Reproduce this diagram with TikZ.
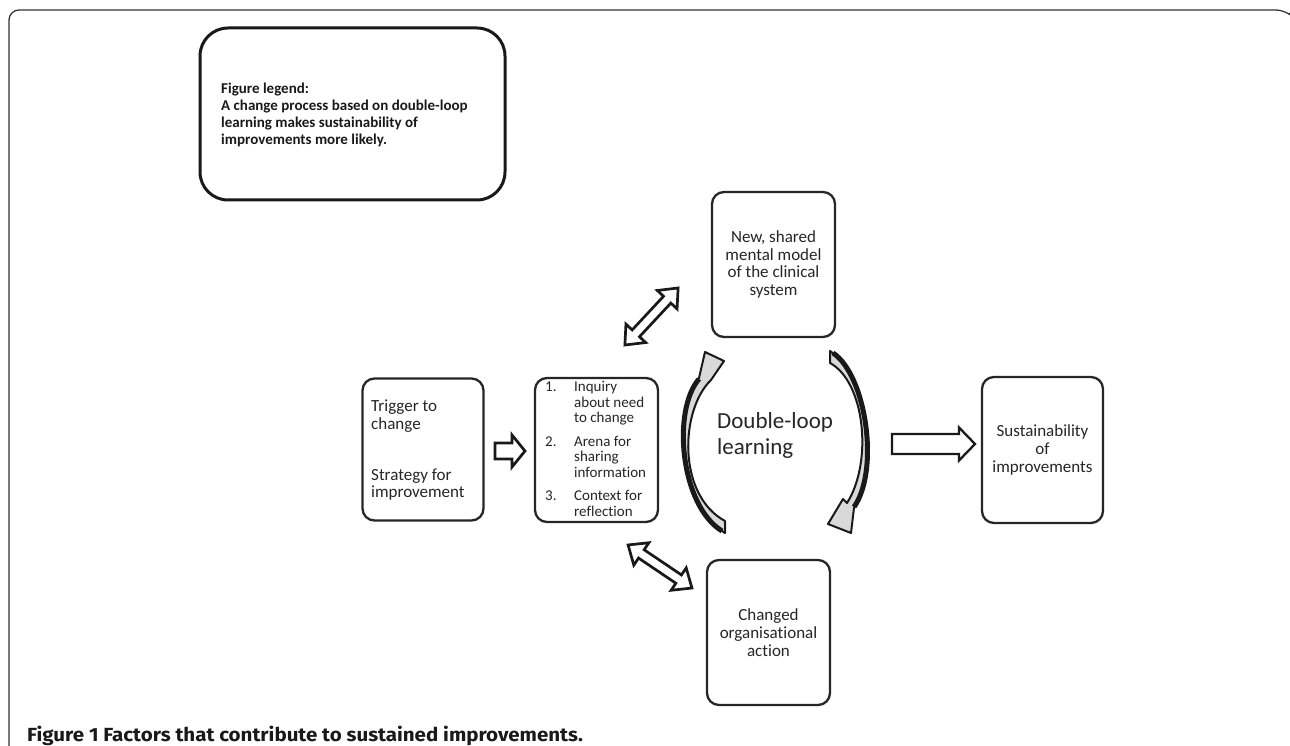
\documentclass[tikz,border=0pt]{standalone}
\usepackage{fontspec}
\setmainfont[Ligatures=NoCommon]{Carlito}
\newfontfamily\capfont[FakeStretch=1.08]{Fira Sans}
\newcommand\txtL[1]{\begin{tabular}[t]{@{}l@{}}#1\end{tabular}}
\begin{document}
\begin{tikzpicture}[x=1pt,y=-1pt,
  box/.style={draw=black!85, line width=2.3pt, rounded corners=12pt, inner sep=0pt, fill=white,
              align=center, text=black!85, font=\fontsize{17}{17.8}\selectfont},
  txt/.style={inner sep=0pt, text=black!85},
  blockarrow/.style={draw=black!90, fill=white, line width=2.7pt, line join=miter},
  curvarrow/.style={draw=black!90, fill=gray!30, line width=2pt, line join=round},
  curvedge/.style={draw=black!90, line width=5pt},
  frame/.style={draw=black!80, line width=1.3pt}]
\useasboundingbox (0,0) rectangle (1290,746);
% outer frame
\draw[frame, rounded corners=10pt] (9,747) -- (9,10) -- (1286,10) -- (1289,13);
% legend
\node[draw=black!90, line width=3pt, rounded corners=28pt, minimum width=305pt, minimum height=172pt]
  (legend) at (352.5,114) {};
\node[txt, anchor=base west, text=black!90, font=\bfseries\fontsize{15}{17}\selectfont] (legendtxt) at (221,94)
  {\txtL{Figure legend:\\A change process based on double-loop\\learning makes sustainability of\\improvements more likely.}};
% trigger box
\node[box, minimum width=121pt, minimum height=142pt] (trigger) at (423,449.5) {};
\node[txt, anchor=base west, font=\fontsize{17}{17.5}\selectfont] (trig1) at (371,411.7) {\txtL{Trigger to\\change}};
\node[txt, anchor=base west, font=\fontsize{17}{17.5}\selectfont] (trig2) at (371,480) {\txtL{Strategy for\\improvement}};
% list box
\node[box, minimum width=123pt, minimum height=144pt] (list) at (596.5,450) {};
\node[txt, anchor=base west, font=\fontsize{15}{15.6}\selectfont] (n1) at (545,391.7) {1.};
\node[txt, anchor=base west, font=\fontsize{15}{15.6}\selectfont] (n2) at (545,446) {2.};
\node[txt, anchor=base west, font=\fontsize{15}{15.6}\selectfont] (n3) at (545,500.7) {3.};
\node[txt, anchor=base west, font=\fontsize{15}{15.6}\selectfont] (i1) at (574,391.7) {\txtL{Inquiry\\about need\\to change}};
\node[txt, anchor=base west, font=\fontsize{15}{15.6}\selectfont] (i2) at (574,446) {\txtL{Arena for\\sharing\\information}};
\node[txt, anchor=base west, font=\fontsize{15}{15.6}\selectfont] (i3) at (574,500.7) {\txtL{Context for\\reflection}};
% model box
\node[box, minimum width=123pt, minimum height=145pt] (model) at (773.5,264.5)
  {New, shared\\mental model\\of the clinical\\system};
% action box
\node[box, minimum width=123pt, minimum height=145pt] (action) at (768.5,632.5)
  {Changed\\organisational\\action};
% sustainability box
\node[box, minimum width=121pt, minimum height=146pt] (sustain) at (1042.5,450)
  {Sustainability\\of\\improvements};
% double-loop text
\node[txt, anchor=base west, font=\fontsize{23}{26}\selectfont] (dl) at (717,428) {\txtL{Double-loop\\learning}};
% block arrows
\begin{scope}[shift={(510,451)}]
  \draw[blockarrow] (-15,-8) -- (2,-8) -- (2,-16) -- (15,0) -- (2,16) -- (2,8) -- (-15,8) -- cycle;
\end{scope}
\begin{scope}[shift={(933.5,444)}]
  \draw[blockarrow, line width=2.3pt] (-41.5,-10) -- (25.5,-10) -- (25.5,-16.5) -- (41.5,0) -- (25.5,16.5)
    -- (25.5,10) -- (-41.5,10) -- cycle;
\end{scope}
\begin{scope}[shift={(651.5,316.5)}, rotate=47]
  \draw[blockarrow] (-39,0) -- (-23,-13.5) -- (-23,-5) -- (23,-5) -- (23,-13.5) -- (39,0) -- (23,13.5)
    -- (23,5) -- (-23,5) -- (-23,13.5) -- cycle;
\end{scope}
\begin{scope}[shift={(660,566.5)}, rotate=-34]
  \draw[blockarrow] (-38.5,0) -- (-22.5,-13.5) -- (-22.5,-5) -- (22.5,-5) -- (22.5,-13.5) -- (38.5,0)
    -- (22.5,13.5) -- (22.5,5) -- (-22.5,5) -- (-22.5,13.5) -- cycle;
\end{scope}
% curved arrows
\draw[curvarrow] (725,533) .. controls (680,505) and (672,410) .. (699,378) -- (705,352) -- (724,361)
  -- (711,380) .. controls (680,410) and (677,495) .. (725,521) -- cycle;
\draw[curvedge] (722,531) .. controls (680,505) and (672,410) .. (699,379);
\draw[curvarrow] (830,351) .. controls (866,375) and (880,470) .. (854,508) -- (851,533) -- (828,524)
  -- (843,499) -- (847,503) .. controls (873,462) and (865,382) .. (830,363) -- cycle;
\draw[curvedge] (833,353) .. controls (866,375) and (880,470) .. (854,507);
% caption
\node[txt, anchor=base west, text=black!90, font=\capfont\bfseries\fontsize{19}{22}\selectfont] (caption) at (27,741)
  {Figure 1 Factors that contribute to sustained improvements.};
\end{tikzpicture}
\end{document}
